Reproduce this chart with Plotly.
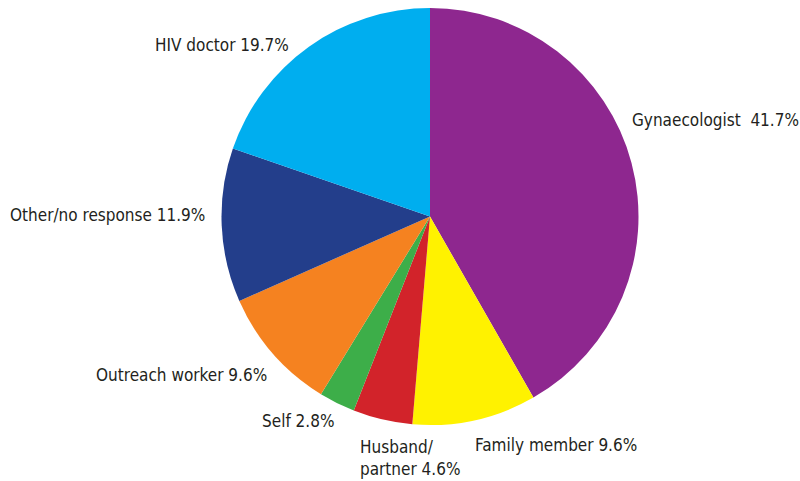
import plotly.graph_objects as go

W, H = 800, 481

categories = ["Gynaecologist", "Family member", "Husband/partner", "Self",
              "Outreach worker", "Other/no response", "HIV doctor"]
values = [41.7, 9.6, 4.6, 2.8, 9.6, 11.9, 19.7]
colors = ["#8E278F", "#FFF200", "#D2232A", "#3DAE49", "#F58220", "#233E8B", "#00AEEF"]
label_texts = ["Gynaecologist  41.7%", "Family member 9.6%", "Husband/<br>partner 4.6%",
               "Self 2.8%", "Outreach worker 9.6%", "Other/no response 11.9%",
               "HIV doctor 19.7%"]
# label anchor positions (left edge x, vertical centre y) in pixels
label_px = [(630, 120), (473, 445), (358, 458), (260, 421), (94, 375), (8, 215), (153, 45)]

cx, cy, r = 430, 216.5, 208.5

fig = go.Figure(go.Pie(
    labels=categories,
    values=values,
    sort=False,
    direction="clockwise",
    rotation=0,
    marker=dict(colors=colors, line=dict(width=0)),
    textinfo="none",
    hoverinfo="label+percent",
    showlegend=False,
    domain=dict(x=[(cx - r) / W, (cx + r) / W],
                y=[(H - cy - r) / H, (H - cy + r) / H]),
))

font = dict(family="DejaVu Sans Condensed, Liberation Sans Narrow, sans-serif",
            size=17, color="#231F20")
for txt, (px, py) in zip(label_texts, label_px):
    fig.add_annotation(x=px / W, y=1 - py / H, xref="paper", yref="paper",
                       text=txt, showarrow=False, xanchor="left", yanchor="middle",
                       align="left", font=font)

fig.update_layout(width=W, height=H, margin=dict(l=0, r=0, t=0, b=0),
                  paper_bgcolor="white", plot_bgcolor="white")
fig.write_html("out.html")
